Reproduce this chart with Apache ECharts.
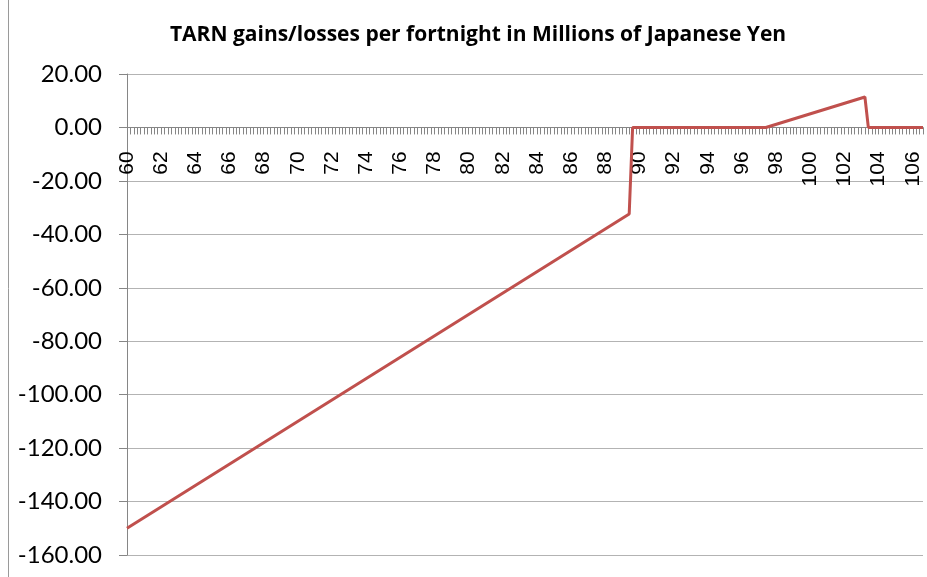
<!DOCTYPE html>
<html>
<head>
<meta charset="utf-8">
<script src="https://cdn.jsdelivr.net/npm/echarts@6/dist/echarts.min.js"></script>
<style>
html,body{margin:0;padding:0;background:#fff;}
#chart{width:927px;height:577px;}
</style>
</head>
<body>
<div id="chart"></div>
<script>
// X categories: spot levels from 60.0 to 106.6 in steps of 0.2 (axis positions)
var catStart = 60, catStep = 0.2, catCount = 234;
// Breakpoints of the gains/losses line
var pointX = [60, 89.4, 89.6, 97.4, 103.2, 103.4, 106.6];
var pointY = [-150, -32.4, 0, 0, 11.4, 0, 0];
// Y axis
var yMin = -160, yMax = 20, yStep = 20;
var titleText = 'TARN gains/losses per fortnight in Millions of Japanese Yen';

var categories = [];
for (var i = 0; i < catCount; i++) {
  categories.push(String(Math.round((catStart + i * catStep) * 10) / 10));
}
var seriesData = categories.map(function () { return null; });
pointX.forEach(function (x, k) {
  var idx = categories.indexOf(String(x));
  if (idx >= 0) seriesData[idx] = pointY[k];
});

var gridTop = 74, gridBottom = 22, H = 577;
var plotH = H - gridTop - gridBottom;
// distance from the bottom of the plot up to the zero line
var zeroOffset = plotH * (0 - yMin) / (yMax - yMin);

var chart = echarts.init(document.getElementById('chart'), null, {renderer: 'canvas'});
chart.setOption({
  animation: false,
  backgroundColor: '#ffffff',
  title: {
    text: titleText,
    left: 473, top: 20, textAlign: 'center',
    textStyle: {fontFamily: 'Open Sans', fontWeight: 'bold', fontSize: 21, color: '#000'}
  },
  graphic: [{
    type: 'line', silent: true,
    shape: {x1: 8.5, y1: 0, x2: 8.5, y2: H},
    style: {stroke: '#9a9a9a', lineWidth: 1}
  }],
  grid: {left: 127, right: 4, top: gridTop, bottom: gridBottom, containLabel: false, outerBoundsMode: 'none'},
  xAxis: {
    type: 'category',
    data: categories,
    boundaryGap: false,
    position: 'bottom',
    offset: -zeroOffset,
    axisLine: {onZero: false, lineStyle: {color: '#868686', width: 1}},
    axisTick: {show: true, interval: 0, length: 7, lineStyle: {color: '#868686'}},
    axisLabel: {
      interval: 9, rotate: 90, margin: 24,
      fontFamily: 'Liberation Sans', fontSize: 21, color: '#000'
    },
    splitLine: {show: false}
  },
  yAxis: {
    type: 'value',
    min: yMin, max: yMax, interval: yStep,
    axisLine: {show: true, lineStyle: {color: '#868686', width: 1}},
    axisTick: {show: true, length: 8, lineStyle: {color: '#868686'}},
    axisLabel: {
      margin: 25, fontFamily: 'Lato', fontSize: 24, color: '#000',
      formatter: function (v) { return v.toFixed(2); }
    },
    splitLine: {show: true, lineStyle: {color: '#b3b3b3', width: 1}}
  },
  series: [{
    type: 'line',
    data: seriesData,
    connectNulls: true,
    showSymbol: false,
    symbol: 'none',
    lineStyle: {color: '#c0504d', width: 3},
    itemStyle: {color: '#c0504d'}
  }]
});
</script>
</body>
</html>
